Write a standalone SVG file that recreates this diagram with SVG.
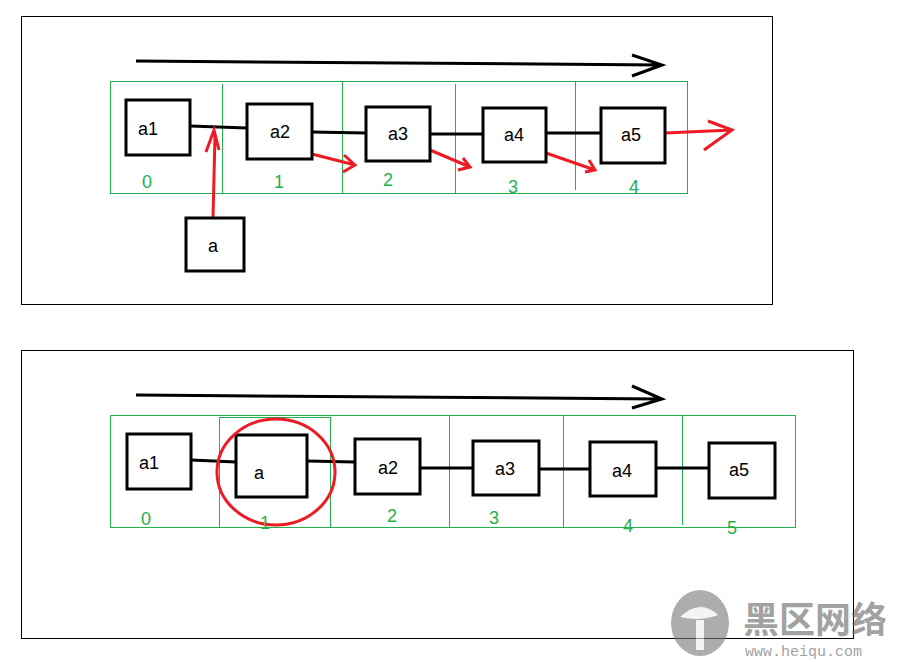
<svg xmlns="http://www.w3.org/2000/svg" width="903" height="662" viewBox="0 0 903 662">
<style>
.frame{fill:none;stroke:#000;stroke-width:1}
.grid{fill:none;stroke:#22b14c;stroke-width:1}
.box{fill:#fff;stroke:#000;stroke-width:3}
.link{stroke:#000;stroke-width:3;fill:none}
.red{stroke:#ed1c24;stroke-width:3;fill:none}
.lbl{font-family:"Liberation Sans",Arial,sans-serif;font-size:18px;fill:#000;text-anchor:middle}
.idx{font-family:"Liberation Sans",Arial,sans-serif;font-size:18px;fill:#22b14c;text-anchor:middle}
</style>
<rect width="903" height="662" fill="#fff"/>
<rect class="frame" x="21.5" y="16.5" width="751" height="288"/>
<rect class="frame" x="21.5" y="350.5" width="832" height="288"/>
<g id="grid">
<rect class="grid" x="110.5" y="81.5" width="577" height="112"/>
<line class="grid" x1="222.5" y1="84" x2="222.5" y2="193"/>
<line class="grid" x1="342.5" y1="81" x2="342.5" y2="193"/>
<line class="grid" x1="455.5" y1="84" x2="455.5" y2="193"/>
<line class="grid" x1="575.5" y1="81" x2="575.5" y2="190"/>
<rect class="grid" x="110.5" y="415.5" width="685" height="112"/>
<rect class="grid" x="219.5" y="417.5" width="111" height="110"/>
<line class="grid" x1="449.5" y1="416" x2="449.5" y2="528"/>
<line class="grid" x1="563.5" y1="416" x2="563.5" y2="528"/>
<line class="grid" x1="682.5" y1="416" x2="682.5" y2="525"/>
</g>
<g id="connectors">
<path class="link" d="M136 61 L660 65 M632 55 L662 65 L632 76"/>
<path class="link" d="M190 126 L247 128 M312 132 L366 133 M430 134 L483 134 M546 133 L601 133"/>
<path class="red" d="M213 218 L215 135 M206 152 L214 130 L219 150"/>
<path class="red" d="M308 153 L355 165 M344 155 L355 165 L343 172"/>
<path class="red" d="M430 150 L470 167 M463 158 L470 167 L458 170"/>
<path class="red" d="M546 153 L595 170 M589 160 L595 170 L585 172"/>
<path class="red" d="M665 133 L732 130 M708 121 L732 130 L704 150"/>
<path class="link" d="M136 395 L660 399 M632 386 L662 399 L632 408"/>
<path class="link" d="M191 460 L236 462 M307 461 L355 462 M420 468 L473 468 M539 469 L590 469 M656 468 L709 468"/>
</g>
<g id="n-a1"><rect class="box" x="126" y="100" width="64" height="55"/><text class="lbl" x="148" y="135">a1</text></g>
<g id="n-a2"><rect class="box" x="247" y="104" width="65" height="55"/><text class="lbl" x="280" y="138">a2</text></g>
<g id="n-a3"><rect class="box" x="366" y="107" width="64" height="54"/><text class="lbl" x="398" y="140">a3</text></g>
<g id="n-a4"><rect class="box" x="483" y="108" width="63" height="54"/><text class="lbl" x="514" y="141">a4</text></g>
<g id="n-a5"><rect class="box" x="601" y="108" width="64" height="55"/><text class="lbl" x="631" y="141">a5</text></g>
<g id="n-a"><rect class="box" x="186" y="218" width="58" height="53"/><text class="lbl" x="213" y="252">a</text></g>
<g id="idx-top">
<text class="idx" x="147" y="188">0</text><text class="idx" x="279" y="188">1</text><text class="idx" x="388" y="186">2</text><text class="idx" x="513" y="193">3</text><text class="idx" x="634" y="193">4</text>
</g>
<g id="b-a1"><rect class="box" x="127" y="434" width="64" height="55"/><text class="lbl" x="149" y="469">a1</text></g>
<g id="b-a"><rect class="box" x="236" y="435" width="71" height="62"/><text class="lbl" x="259" y="479">a</text></g>
<g id="b-a2"><rect class="box" x="355" y="439" width="65" height="55"/><text class="lbl" x="388" y="474">a2</text></g>
<g id="b-a3"><rect class="box" x="473" y="441" width="66" height="54"/><text class="lbl" x="505" y="475">a3</text></g>
<g id="b-a4"><rect class="box" x="590" y="442" width="66" height="54"/><text class="lbl" x="622" y="477">a4</text></g>
<g id="b-a5"><rect class="box" x="709" y="443" width="66" height="55"/><text class="lbl" x="739" y="476">a5</text></g>
<ellipse class="red" cx="276" cy="472" rx="59" ry="53"/>
<g id="idx-bottom">
<text class="idx" x="146" y="525">0</text><text class="idx" x="265" y="529">1</text><text class="idx" x="392" y="522">2</text><text class="idx" x="494" y="524">3</text><text class="idx" x="628" y="532">4</text><text class="idx" x="732" y="534">5</text>
</g>
<g id="watermark" opacity="0.6">
<ellipse cx="700" cy="623" rx="29" ry="33" fill="#777"/>
<path d="M680 617 Q700 598 718 615 Q700 622 680 617 Z" fill="#eee"/>
<rect x="696" y="620" width="8" height="30" fill="#eee"/>
<text x="743" y="633" font-family="'Noto Sans CJK SC',sans-serif" font-size="36" font-weight="bold" fill="#666">黑区网络</text>
<text x="745" y="656" font-family="'Liberation Mono',monospace" font-size="15" fill="#666">www.heiqu.com</text>
</g>
</svg>
